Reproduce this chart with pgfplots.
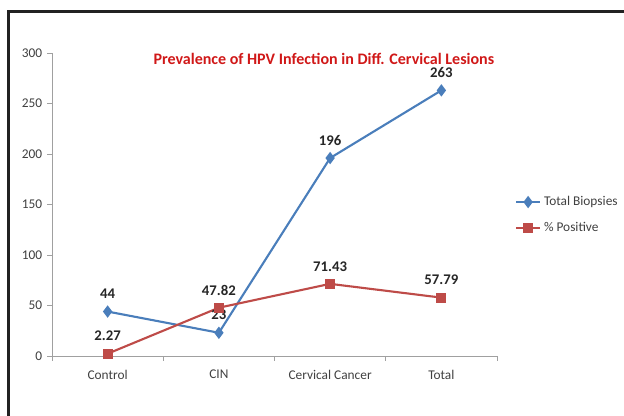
\documentclass[border=0pt]{standalone}
\usepackage{fontspec}
\setmainfont{Carlito}
\usepackage{pgfplots}
\pgfplotsset{compat=1.18}
\definecolor{sblue}{HTML}{4A7EBB}
\definecolor{sred}{HTML}{BE4B48}
\definecolor{axgray}{HTML}{A0A0A0}
\definecolor{txt}{HTML}{404040}
\definecolor{ttlred}{HTML}{D01818}
\definecolor{frame}{HTML}{222222}
\begin{document}
\begin{tikzpicture}
\useasboundingbox (0,0) rectangle (156mm,104mm);
\begin{scope}
  \clip (0,0) rectangle (156mm,104mm);
  \draw[line width=1.7pt,draw=frame] (2.15mm,-5mm) -- (2.15mm,101.1mm) -- (160mm,101.1mm);
\end{scope}
\begin{axis}[
  at={(13mm,15mm)}, anchor=south west,
  scale only axis, width=111.25mm, height=75.75mm,
  xmin=-0.5, xmax=3.5, ymin=0, ymax=300,
  axis x line=bottom, axis y line=left,
  axis line style={draw=axgray,line width=0.6pt,-},
  xtick={-0.5,0.5,1.5,2.5,3.5}, xticklabels={},
  extra x ticks={0,1,2,3},
  extra x tick labels={Control,CIN,Cervical Cancer,Total},
  extra x tick style={major tick length=0pt},
  ytick={0,50,...,300},
  tick align=outside, major tick length=3.5pt,
  tick style={draw=axgray,line width=0.6pt},
  tick label style={font=\fontsize{9.5}{11}\selectfont,text=txt},
  x tick label style={yshift=-6.5pt},
  /pgf/number format/assume math mode=true,
  clip=false,
  legend style={at={(1.04,0.465)},anchor=west,draw=none,fill=none,
    font=\fontsize{9.5}{11}\selectfont,text=txt,row sep=6.5pt,
    inner sep=0pt},
  legend cell align=left,
  legend image code/.code={
    \draw[#1] (0mm,0mm) -- (6mm,0mm);
    \draw[#1,only marks] plot coordinates {(3mm,0mm)};},
  nodes near coords,
  point meta=explicit symbolic,
  every node near coord/.append style={anchor=center,yshift=12.5pt,
    font=\bfseries\fontsize{10.5}{12}\selectfont,text=black!85},
]
\addplot[sblue,line width=1.5pt,mark=diamond*,mark size=3.2pt,
  mark options={fill=sblue,solid}] coordinates {
  (0,44) [44] (1,23) [23] (2,196) [196] (3,263) [263]};
\addplot[sred,line width=1.5pt,mark=square*,mark size=2.8pt,
  mark options={fill=sred,solid}] coordinates {
  (0,2.27) [2.27] (1,47.82) [47.82] (2,71.43) [71.43] (3,57.79) [57.79]};
\legend{Total Biopsies,\% Positive}
\node[font=\bfseries\fontsize{11.4}{13}\selectfont,text=ttlred,anchor=center]
  at (axis description cs:0.611,0.98) {Prevalence of HPV Infection in Diff. Cervical Lesions};
\end{axis}
\end{tikzpicture}
\end{document}
